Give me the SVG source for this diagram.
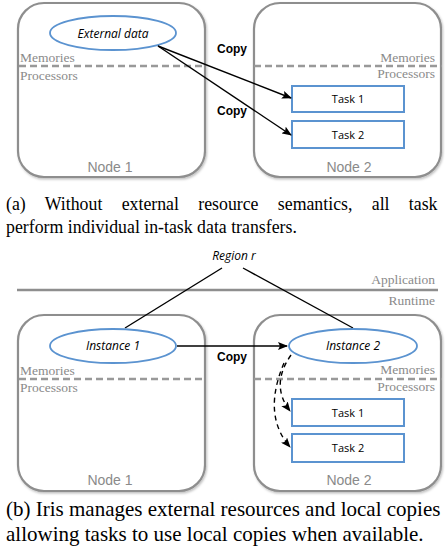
<svg xmlns="http://www.w3.org/2000/svg" width="445" height="552" viewBox="0 0 445 552">
<style>
.node{fill:#fff;stroke:#8e8e8e;stroke-width:2.2}
.dash{stroke:#999;stroke-width:2.5;stroke-dasharray:7,4;fill:none}
.lay{font-family:"Liberation Serif",serif;font-size:13.5px;fill:#8a8a8a}
.nlab{font-family:"Liberation Sans",sans-serif;font-size:14px;fill:#8a8a8a;text-anchor:middle}
.ell{fill:#fff;stroke:#5b93d0;stroke-width:1.8}
.task{fill:#fff;stroke:#5b93d0;stroke-width:2}
.it{font-family:"Open Sans","Liberation Sans",sans-serif;font-style:italic;font-size:12px;fill:#000;text-anchor:middle}
.tt{font-family:"Open Sans","Liberation Sans",sans-serif;font-size:11px;fill:#000;text-anchor:middle}
.copy{font-family:"Liberation Sans",sans-serif;font-weight:bold;font-size:12px;fill:#000}
.capa{font-family:"Liberation Serif",serif;font-size:17.8px;fill:#000}
.capb{font-family:"Liberation Serif",serif;font-size:21px;fill:#000}
.ln{stroke:#000;stroke-width:1.4;fill:none}
</style>
<defs>
<marker id="ah" markerWidth="10" markerHeight="8" refX="9" refY="4" orient="auto" markerUnits="userSpaceOnUse">
<path d="M0,0 L10,4 L0,8 L2,4 Z" fill="#000"/>
</marker>
<filter id="sh" x="-5%" y="-5%" width="112%" height="112%">
<feDropShadow dx="1" dy="1.5" stdDeviation="1" flood-color="#000" flood-opacity="0.25"/>
</filter>
</defs>

<!-- Panel (a) -->
<g id="a-node1">
<rect class="node" x="18" y="3" width="187" height="174" rx="26" filter="url(#sh)"/>
<line class="dash" x1="19" y1="66" x2="205" y2="66"/>
<text class="lay" x="20" y="62">Memories</text>
<text class="lay" x="20" y="80">Processors</text>
<text class="nlab" x="110" y="172">Node 1</text>
</g>
<g id="a-node2">
<rect class="node" x="254" y="3" width="187" height="174" rx="26" filter="url(#sh)"/>
<line class="dash" x1="254" y1="66" x2="442" y2="66"/>
<text class="lay" x="435" y="62" text-anchor="end">Memories</text>
<text class="lay" x="435" y="78" text-anchor="end">Processors</text>
<text class="nlab" x="349" y="172">Node 2</text>
</g>
<g id="a-external">
<ellipse class="ell" cx="113" cy="33" rx="63" ry="17"/>
<text class="it" x="113" y="38">External data</text>
</g>
<g id="a-task1">
<rect class="task" x="292" y="86" width="112" height="26"/>
<text class="tt" x="348" y="103">Task 1</text>
</g>
<g id="a-task2">
<rect class="task" x="292" y="121" width="112" height="27"/>
<text class="tt" x="348" y="139">Task 2</text>
</g>
<g id="a-connectors">
<line class="ln" x1="158" y1="46" x2="291" y2="98" marker-end="url(#ah)"/>
<line class="ln" x1="158" y1="46" x2="291" y2="135" marker-end="url(#ah)"/>
<text class="copy" x="217" y="53">Copy</text>
<text class="copy" x="217" y="115">Copy</text>
</g>

<text class="capa" x="6" y="210" word-spacing="14.9">(a) Without external resource semantics, all task</text>
<text class="capa" x="6" y="233">perform individual in-task data transfers.</text>

<!-- Panel (b) -->
<g id="b-layer">
<line x1="17" y1="290" x2="438" y2="290" stroke="#8e8e8e" stroke-width="2.5"/>
<text class="lay" x="435" y="284" text-anchor="end">Application</text>
<text class="lay" x="435" y="305" text-anchor="end">Runtime</text>
</g>
<g id="b-region">
<text class="it" x="234" y="260">Region r</text>
</g>
<g id="b-node1">
<rect class="node" x="18" y="315" width="187" height="176" rx="26" filter="url(#sh)"/>
<line class="dash" x1="19" y1="379" x2="205" y2="379"/>
<text class="lay" x="20" y="375">Memories</text>
<text class="lay" x="20" y="392">Processors</text>
<text class="nlab" x="110" y="485">Node 1</text>
</g>
<g id="b-node2">
<rect class="node" x="254" y="315" width="187" height="176" rx="26" filter="url(#sh)"/>
<line class="dash" x1="254" y1="379" x2="442" y2="379"/>
<text class="lay" x="435" y="374" text-anchor="end">Memories</text>
<text class="lay" x="435" y="391" text-anchor="end">Processors</text>
<text class="nlab" x="349" y="485">Node 2</text>
</g>
<g id="b-connectors">
<line class="ln" x1="222" y1="268" x2="125" y2="328"/>
<line class="ln" x1="243" y1="268" x2="353" y2="328"/>
<line class="ln" x1="177" y1="346" x2="287" y2="346" marker-end="url(#ah)"/>
<text class="copy" x="217" y="361">Copy</text>
<path class="ln" d="M291,355 Q270,385 290,411" stroke-dasharray="5,4" marker-end="url(#ah)"/>
<path class="ln" d="M284,363 Q262,415 290,447" stroke-dasharray="5,4" marker-end="url(#ah)"/>
</g>
<g id="b-instance1">
<ellipse class="ell" cx="113" cy="346" rx="63" ry="17"/>
<text class="it" x="113" y="350">Instance 1</text>
</g>
<g id="b-instance2">
<ellipse class="ell" cx="353" cy="346" rx="64" ry="17"/>
<text class="it" x="353" y="350">Instance 2</text>
</g>
<g id="b-task1">
<rect class="task" x="292" y="399" width="112" height="27"/>
<text class="tt" x="348" y="417">Task 1</text>
</g>
<g id="b-task2">
<rect class="task" x="292" y="434" width="112" height="28"/>
<text class="tt" x="348" y="452">Task 2</text>
</g>

<text class="capb" x="6" y="516">(b) Iris manages external resources and local copies</text>
<text class="capb" x="6" y="541">allowing tasks to use local copies when available.</text>
</svg>
